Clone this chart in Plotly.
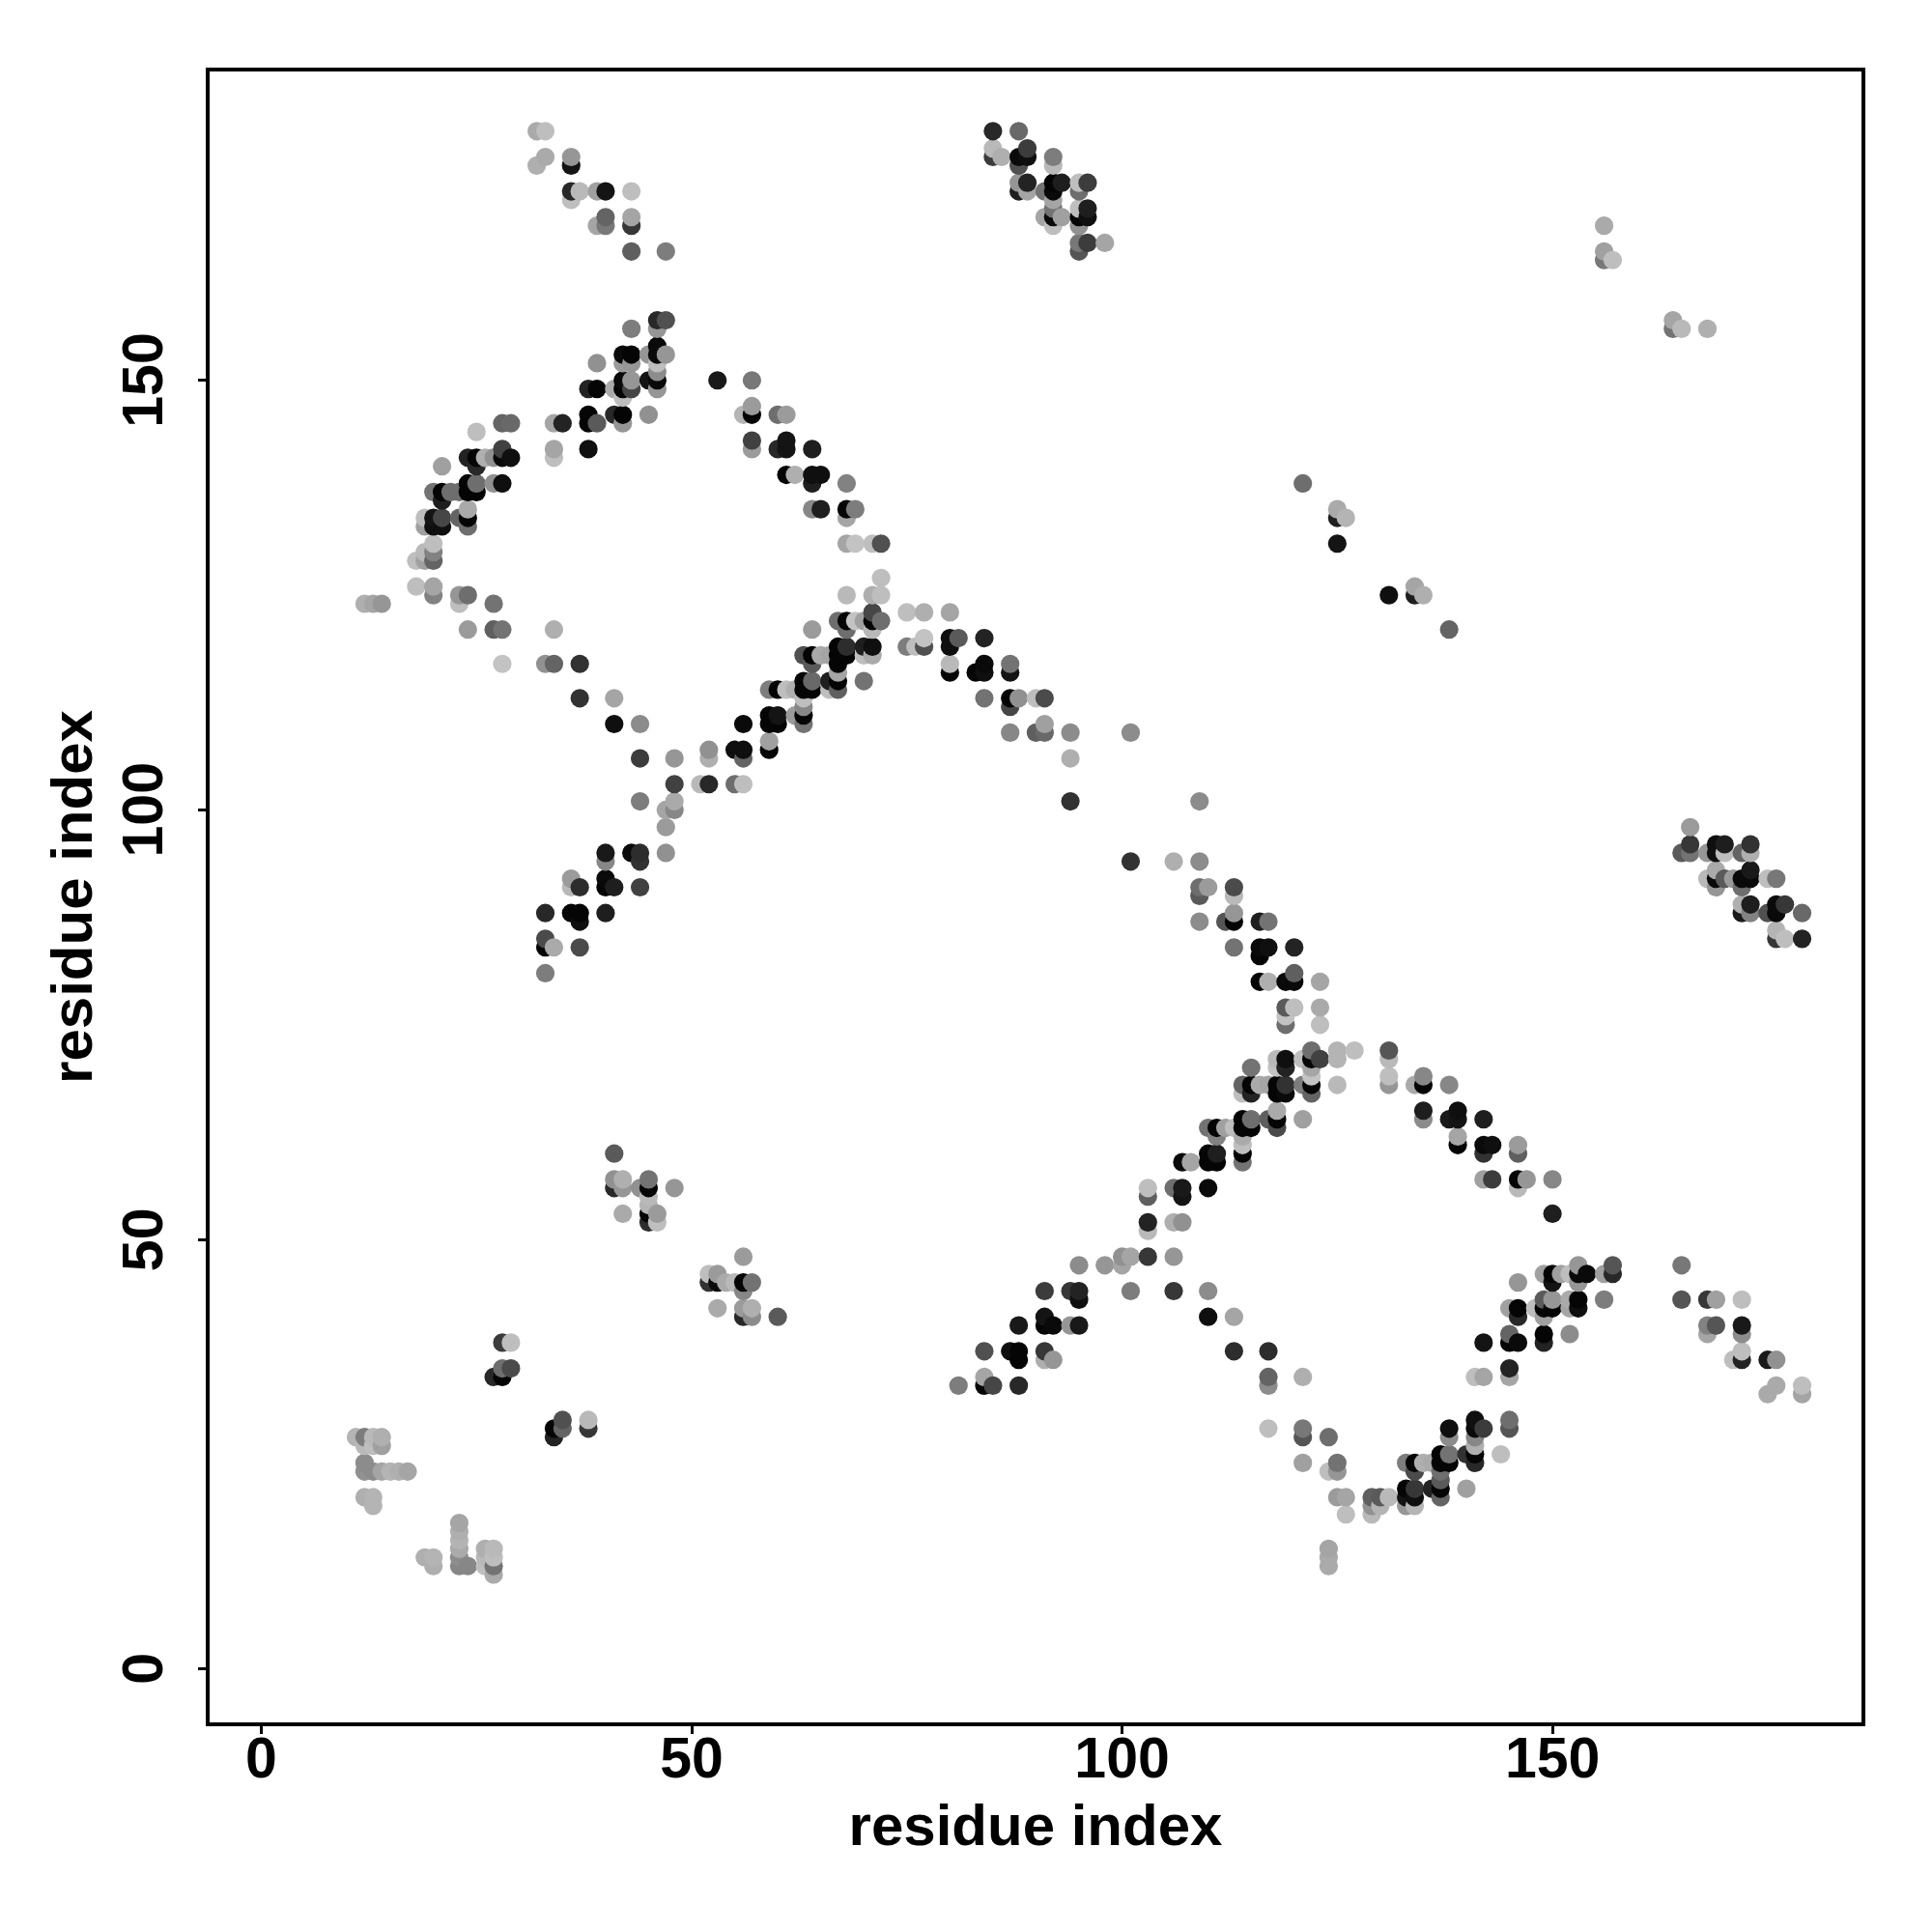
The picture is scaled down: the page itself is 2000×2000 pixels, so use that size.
import plotly.graph_objects as go

top_left_x = [32,33,33,32,36,36,36,36,37,39,40,43,40,39,40,43,43,43,47]
top_left_y = [179,179,176,175,176,175,172,171,172,172,172,172,169,168,168,169,168,165,165]
top_left_g = [170,190,170,175,150,20,40,190,185,160,20,190,100,165,120,165,55,95,125]

arc_a_x = [46,47,46,43,46,45,46,47,42,43,42,43,39,46,46,46,45,46,42,43,43,42,41,42,38,39,38,38,39,41,42,42,45,34,35,28,29,34,34,38,25,21]
arc_a_y = [157,157,156,156,154,153,153,153,153,153,152,152,152,152,151,150,150,149,150,150,149,149,149,148,149,149,146,145,145,146,146,145,146,145,145,145,145,142,141,142,144,140]
arc_a_g = [40,80,150,125,10,150,10,150,10,5,155,150,145,190,140,10,20,150,10,150,70,5,170,190,35,5,5,5,90,40,5,150,145,165,35,100,105,165,190,15,190,160]

arc_b_x = [28,24,25,26,27,28,29,25,24,25,27,28,20,21,22,23,24,25,21,24,24,24,19,20,21,23,19,20,21,20,19,20,18,19,20]
arc_b_y = [142,141,141,141,141,141,141,140,138,138,138,138,137,137,137,137,137,137,136,135,134,133,134,134,134,134,133,133,133,131,130,130,129,129,129]
arc_b_g = [65,35,5,175,145,10,15,40,5,110,145,15,115,5,110,110,5,5,30,170,5,110,190,20,70,100,160,15,15,190,185,130,190,160,100]

arc_c_x = [18,20,20,23,24,23,27,12,13,14,24,27,28,34,28,33,34,37,37,41,41,44,44,48,48,44,48,47,48,47]
arc_c_y = [126,126,125,125,125,124,124,124,124,124,121,121,121,121,117,117,117,117,113,113,110,110,106,106,103,101,101,100,100,98]
arc_c_g = [190,165,130,150,110,190,115,175,165,150,155,95,115,175,195,145,100,50,50,165,15,140,60,150,65,125,170,165,135,155]

foot_x = [40,43,44,47,40,44,36,40,36,37,40,41,44,33,36,37,40,37,33,33,34,37,33]
foot_y = [95,95,95,95,94,94,92,92,91,91,91,91,91,88,88,88,88,87,85,84,84,84,81]
foot_g = [25,10,45,145,135,50,155,10,185,45,5,30,65,40,5,5,30,15,75,5,170,75,125]

right_arc_x = [53,57,56,57,57,60,61,57,61,57,60,61,64,61,62,64,65,64,68,64,65,68,69,68,68,69,71,72]
right_arc_y = [150,150,146,146,147,146,146,143,143,142,142,142,142,139,139,139,139,138,138,135,135,135,135,134,131,131,131,131]
right_arc_g = [25,120,180,5,155,110,155,65,20,155,40,20,30,5,175,15,15,30,130,135,30,5,125,165,165,195,190,80]

mid_a_x = [72,68,71,72,71,75,77,80,67,68,69,70,71,72,64,68,71,67,68,70,71,63,64,65,66,67,68,70,71,64,67,67]
mid_a_y = [127,125,125,125,123,123,123,123,122,122,122,122,122,122,121,121,121,119,119,119,119,118,118,118,118,118,118,118,118,117,117,116]
mid_a_g = [190,185,175,190,70,190,175,165,110,5,195,160,5,110,155,110,185,5,45,30,15,80,5,170,165,5,5,190,170,90,5,165]

mid_b_x = [63,64,66,67,70,59,60,61,62,63,64,66,67,63,63,62,63,59,60,56,59,60,63,59,59,55,56,52,56,52,51,52,55,56]
mid_b_y = [115,115,115,115,115,114,114,114,114,114,114,114,114,113,112,111,111,111,111,110,110,110,110,108,107,107,107,107,106,106,103,103,103,103]
mid_b_g = [5,105,30,5,115,125,5,190,175,5,5,190,95,190,135,155,5,5,20,10,5,5,115,160,5,15,15,145,100,175,185,40,110,190]

down_a_x = [77,80,81,84,75,76,77,80,80,84,87,80,83,84,87,84,87,88,90,91,87,91,87,90,91,94,101,94,94,109]
down_a_y = [120,120,120,120,119,119,119,119,117,117,117,116,116,116,116,113,113,113,113,113,112,110,109,109,109,109,109,106,101,101]
down_a_g = [195,15,90,35,125,190,80,15,185,10,115,5,5,15,20,115,5,145,190,75,70,160,135,95,105,140,140,175,50,140]

down_b_x = [101,106,109,109,110,113,109,113,113,109,112,113,116,117,113,116,117,120,116,120,116,117,119,120,123,119,120,123,119,119,123]
down_b_y = [94,94,94,91,91,91,90,90,88,87,87,87,87,87,84,84,84,84,83,81,80,80,80,80,80,77,77,77,76,75,75]
down_b_g = [50,175,140,110,155,75,90,185,150,140,85,5,30,115,115,10,15,35,5,95,5,175,10,10,165,90,190,170,195,110,190]

cross_a_x = [122,125,127,131,118,119,121,122,123,125,131,115,118,119,122,122,131,135,114,115,116,117,118,119,121,122,125,131,134,135,138,114,115,118,119,122,118,135,139]
cross_a_y = [72,72,72,72,71,71,71,71,71,71,71,70,70,70,70,69,69,69,68,68,68,68,68,68,68,68,68,68,68,68,68,67,67,67,67,67,65,65,65]
cross_a_g = [110,180,190,85,185,15,190,5,65,180,185,115,195,35,165,195,190,135,100,5,170,165,5,50,125,5,185,150,170,5,135,190,35,5,10,100,170,30,15]

cross_b_x = [114,115,117,118,121,135,138,139,142,110,111,112,113,114,115,118,111,114,139,114,139,142,143,146,110,111,114,142,146]
cross_b_y = [64,64,64,64,64,64,64,64,64,63,63,63,63,63,63,63,62,62,62,61,61,61,61,61,60,60,60,60,60]
cross_b_g = [5,110,95,5,160,140,25,20,30,115,5,160,190,5,5,75,130,170,165,190,5,10,15,155,5,30,5,50,95]

cross_c_x = [107,108,110,111,114,142,143,146,147,150,103,106,107,110,146,103,107,150,103,106,107,103]
cross_c_y = [59,59,59,59,59,57,57,57,57,57,56,56,56,56,56,55,55,53,52,52,52,51]
cross_c_g = [10,165,5,5,115,160,60,5,150,135,190,110,25,10,185,95,20,30,35,175,145,185]

low_a_x = [100,101,103,106,95,98,100,91,94,95,101,106,110,95,91,110,113,88,91,92,94,95,84,87,88,91,113,117,88,91,92]
low_a_y = [48,48,48,48,47,47,47,44,44,44,44,44,44,43,41,41,41,40,40,40,40,40,37,37,37,37,37,37,36,36,36]
low_a_g = [145,165,55,150,140,150,165,60,55,35,125,55,140,15,20,15,165,25,5,10,150,25,80,15,5,55,45,45,5,175,150]

low_b_x = [84,117,121,81,84,85,88,117,117,121,121,124,121,125,124,125,125,126,126,124,124,124]
low_b_y = [34,34,34,33,33,33,33,33,28,28,27,27,24,24,23,23,20,20,18,14,13,12]
low_b_g = [165,100,175,125,5,70,40,140,190,120,85,110,160,115,190,150,155,165,190,165,170,170]

rise_a_x = [129,130,131,133,134,137,129,130,133,134,129,133,134,136,137,140,137,134,137,133,134,135,136,137,138,141,137,138,140,141,144,141,138,141,138,141,142,145,141,145]
rise_a_y = [20,20,20,20,20,20,19,19,19,19,18,21,21,21,21,21,22,23,23,24,24,24,24,24,24,24,25,25,25,25,25,26,27,27,28,28,28,28,29,29]
rise_a_g = [95,90,185,20,15,100,145,180,150,180,185,5,55,35,5,160,90,75,110,125,5,175,170,5,5,40,5,115,50,5,190,175,140,135,15,10,60,85,15,110]

rise_b_x = [141,142,145,145,142,145,146,149,145,149,152,146,149,145,146,148,149,150,152,153,149,150,152,153,156,146,150,153,149,150,151,152,153,154,156,157,153,157]
rise_b_y = [34,34,34,35,38,38,38,38,39,39,39,41,41,42,42,42,42,42,42,42,43,43,43,43,43,45,45,45,46,46,46,46,46,46,46,46,47,47]
rise_b_g = [190,165,165,35,20,5,10,35,100,5,140,40,160,160,5,190,5,5,165,15,90,150,170,5,125,150,20,150,160,5,160,190,10,10,160,40,150,85]

end_x = [165,165,168,169,172,168,169,172,168,172,172,171,172,175,176,176,179,175,179]
end_y = [47,43,43,43,43,40,40,40,39,39,37,36,36,36,36,33,33,32,32]
end_g = [120,85,55,160,190,130,85,25,165,140,190,190,35,25,145,170,190,170,165]

mid_left_x = [41,41,42,41,42,44,45,45,48,45,45,45,42,46,45,46,56,52,53,52,53,54,55,56,57,56,53,56,57,56,57,60]
mid_left_y = [60,57,57,56,56,56,57,56,56,55,54,53,53,53,52,52,48,46,46,45,45,45,45,45,45,44,42,42,42,41,41,41]
mid_left_g = [90,145,175,40,150,145,115,5,150,185,180,5,170,155,45,190,155,190,155,50,10,170,185,5,115,135,170,155,175,40,140,90]

low_left_x = [28,29,28,29,27,28,35,38,34,35,38,34,11,12,13,14,12,13,14,12,12,13,14,15,16,17,12,13,13]
low_left_y = [38,38,35,35,34,34,29,29,28,28,28,27,27,27,27,27,26,26,26,24,23,23,23,23,23,23,20,20,19]
low_left_g = [60,190,110,75,40,5,80,185,5,100,55,35,180,125,185,175,185,190,160,140,145,140,165,180,175,165,175,180,180]

corner_x = [19,20,20,23,23,23,23,23,23,24,26,27,26,27,26,27,27]
corner_y = [13,13,12,17,16,15,14,13,12,12,14,14,13,13,12,12,11]
corner_g = [175,180,175,165,175,180,170,140,135,135,175,185,185,190,190,115,170]

top_mid_a_x = [85,88,85,85,86,89,88,89,88,88,89,88,89,92,92,91,92,93,92,92]
top_mid_a_y = [179,179,177,176,176,177,176,176,175,173,173,172,172,176,175,172,173,173,172,171]
top_mid_a_g = [40,105,185,60,175,60,10,15,80,150,35,30,165,125,185,115,5,30,10,165]

top_mid_b_x = [95,96,95,92,91,92,93,92,95,96,95,96,95,95,96,98,95]
top_mid_b_y = [173,173,172,170,169,169,169,168,170,170,169,169,168,166,166,166,165]
top_mid_b_g = [190,60,110,115,165,10,160,190,190,30,5,15,145,120,60,165,85]

right_cluster_a_x = [166,166,165,166,168,169,170,169,170,172,173,173,168,169,169,169,170,171,172,173,173,172]
right_cluster_a_y = [98,96,95,95,95,96,96,95,95,95,96,95,92,93,92,91,92,92,92,93,92,91]
right_cluster_a_g = [155,55,90,115,150,15,30,15,190,100,50,175,185,170,10,150,90,155,10,25,10,110]

right_cluster_b_x = [175,176,172,173,172,173,175,176,177,176,179,176,176,177,179]
right_cluster_b_y = [92,92,89,89,88,88,88,89,89,88,88,86,85,85,85]
right_cluster_b_g = [190,120,175,30,25,130,80,10,55,10,105,180,55,190,35]

sparse_x = [156,156,156,157,164,164,165,168,121,125,126,125,125,131,134,134,135,138]
sparse_y = [168,165,164,164,157,156,156,156,138,135,134,134,131,125,126,125,125,121]
sparse_g = [170,160,120,190,165,115,185,175,110,170,180,30,20,15,165,30,175,100]

tick_values = [0, 50, 100, 150]
x_title = "residue index"
y_title = "residue index"

groups = [
    (top_left_x, top_left_y, top_left_g), (arc_a_x, arc_a_y, arc_a_g), (arc_b_x, arc_b_y, arc_b_g),
    (arc_c_x, arc_c_y, arc_c_g), (foot_x, foot_y, foot_g), (right_arc_x, right_arc_y, right_arc_g),
    (mid_a_x, mid_a_y, mid_a_g), (mid_b_x, mid_b_y, mid_b_g), (down_a_x, down_a_y, down_a_g),
    (down_b_x, down_b_y, down_b_g), (cross_a_x, cross_a_y, cross_a_g), (cross_b_x, cross_b_y, cross_b_g),
    (cross_c_x, cross_c_y, cross_c_g), (low_a_x, low_a_y, low_a_g), (low_b_x, low_b_y, low_b_g),
    (rise_a_x, rise_a_y, rise_a_g), (rise_b_x, rise_b_y, rise_b_g), (end_x, end_y, end_g),
    (mid_left_x, mid_left_y, mid_left_g), (low_left_x, low_left_y, low_left_g), (corner_x, corner_y, corner_g),
    (top_mid_a_x, top_mid_a_y, top_mid_a_g), (top_mid_b_x, top_mid_b_y, top_mid_b_g),
    (right_cluster_a_x, right_cluster_a_y, right_cluster_a_g),
    (right_cluster_b_x, right_cluster_b_y, right_cluster_b_g), (sparse_x, sparse_y, sparse_g),
]
points = []
for gx, gy, gg in groups:
    points.extend(zip(gx, gy, gg, strict=True))
points.sort(key=lambda p: (p[0], p[1]))  # the picture draws column by column, upward

fig = go.Figure(go.Scatter(
    x=[p[0] for p in points],
    y=[p[1] for p in points],
    mode="markers",
    marker=dict(size=19.2, color=[f"rgb({p[2]},{p[2]},{p[2]})" for p in points], line=dict(width=0)),
    showlegend=False,
    hoverinfo="x+y",
))

FONT = "Liberation Sans"
axis = dict(
    tickmode="array", tickvals=tick_values, ticktext=[str(v) for v in tick_values],
    ticks="outside", ticklen=8, tickwidth=3, tickcolor="black",
    showline=True, linewidth=3.5, linecolor="black", mirror=True,
    showgrid=False, zeroline=False,
    tickfont=dict(family=FONT, size=59, color="black", weight="bold"),
)
title_font = dict(family=FONT, size=60, color="black", weight="bold")
fig.update_xaxes(range=[-6.0, 185.9], ticklabelstandoff=-26, title=dict(text=x_title, font=title_font, standoff=17), **axis)
fig.update_yaxes(range=[-6.2, 185.95], showticklabels=False, title=dict(text=y_title, font=title_font, standoff=91), **axis)
# rotated y tick labels are placed as annotations: plotly's own rotated labels sit off their ticks
for v in tick_values:
    fig.add_annotation(
        x=0, xref="paper", y=v, yref="y", text=str(v), showarrow=False,
        textangle=-90, xanchor="center", yanchor="middle", xshift=-69,
        font=dict(family=FONT, size=59, color="black", weight="bold"),
    )
fig.update_layout(
    width=2000, height=2000, autosize=False,
    margin=dict(l=209, r=81, t=66, b=225, autoexpand=False),
    paper_bgcolor="white", plot_bgcolor="white",
)
fig.write_html("out.html")
